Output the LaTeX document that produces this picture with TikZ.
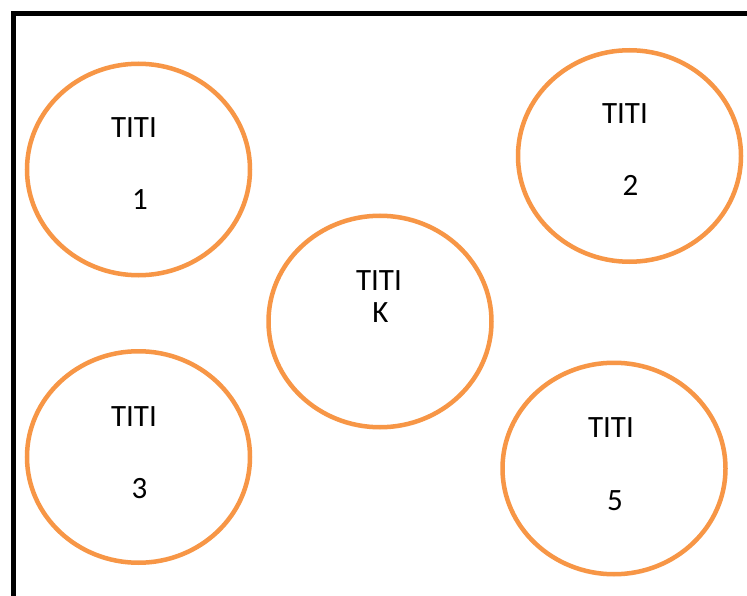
\documentclass[tikz,border=0pt]{standalone}
\usepackage{fontspec}
\setmainfont{Carlito}
\usetikzlibrary{shapes.geometric}
\definecolor{circorange}{HTML}{F79646}
\begin{document}
\begin{tikzpicture}[x=1pt,y=-1pt,
  circ/.style={ellipse, draw=circorange, line width=4.5pt, minimum width=223pt, minimum height=211.5pt, inner sep=0pt},
  lbl/.style={anchor=base, inner sep=0pt, font=\fontsize{31}{32}\selectfont},
  frame/.style={line width=5pt, draw=black}]
\useasboundingbox (0,0) rectangle (747,596);
\fill[white] (0,0) rectangle (747,596);
\coordinate (fb) at (13.5,596);
\coordinate (fc) at (13.5,13.5);
\coordinate (fr) at (747,13.5);
\draw[frame] (fb) -- (fc) -- (fr);
\node[circ] (c1) at (138.5,169.5) {};
\node[circ] (c2) at (629.5,156) {};
\node[circ] (ck) at (380,321.5) {};
\node[circ] (c3) at (138.5,457) {};
\node[circ] (c5) at (614,468.5) {};
\node[lbl] (t1) at (134,138) {TITI};
\node[lbl] (n1) at (140,210) {1};
\node[lbl] (t2) at (625,124) {TITI};
\node[lbl] (n2) at (630.5,196) {2};
\node[lbl] (tk) at (379,290) {TITI};
\node[lbl] (nk) at (380.5,322) {K};
\node[lbl] (t3) at (134,426) {TITI};
\node[lbl] (n3) at (139.5,498) {3};
\node[lbl] (t5) at (611,437) {TITI};
\node[lbl] (n5) at (615,510) {5};
\end{tikzpicture}
\end{document}
